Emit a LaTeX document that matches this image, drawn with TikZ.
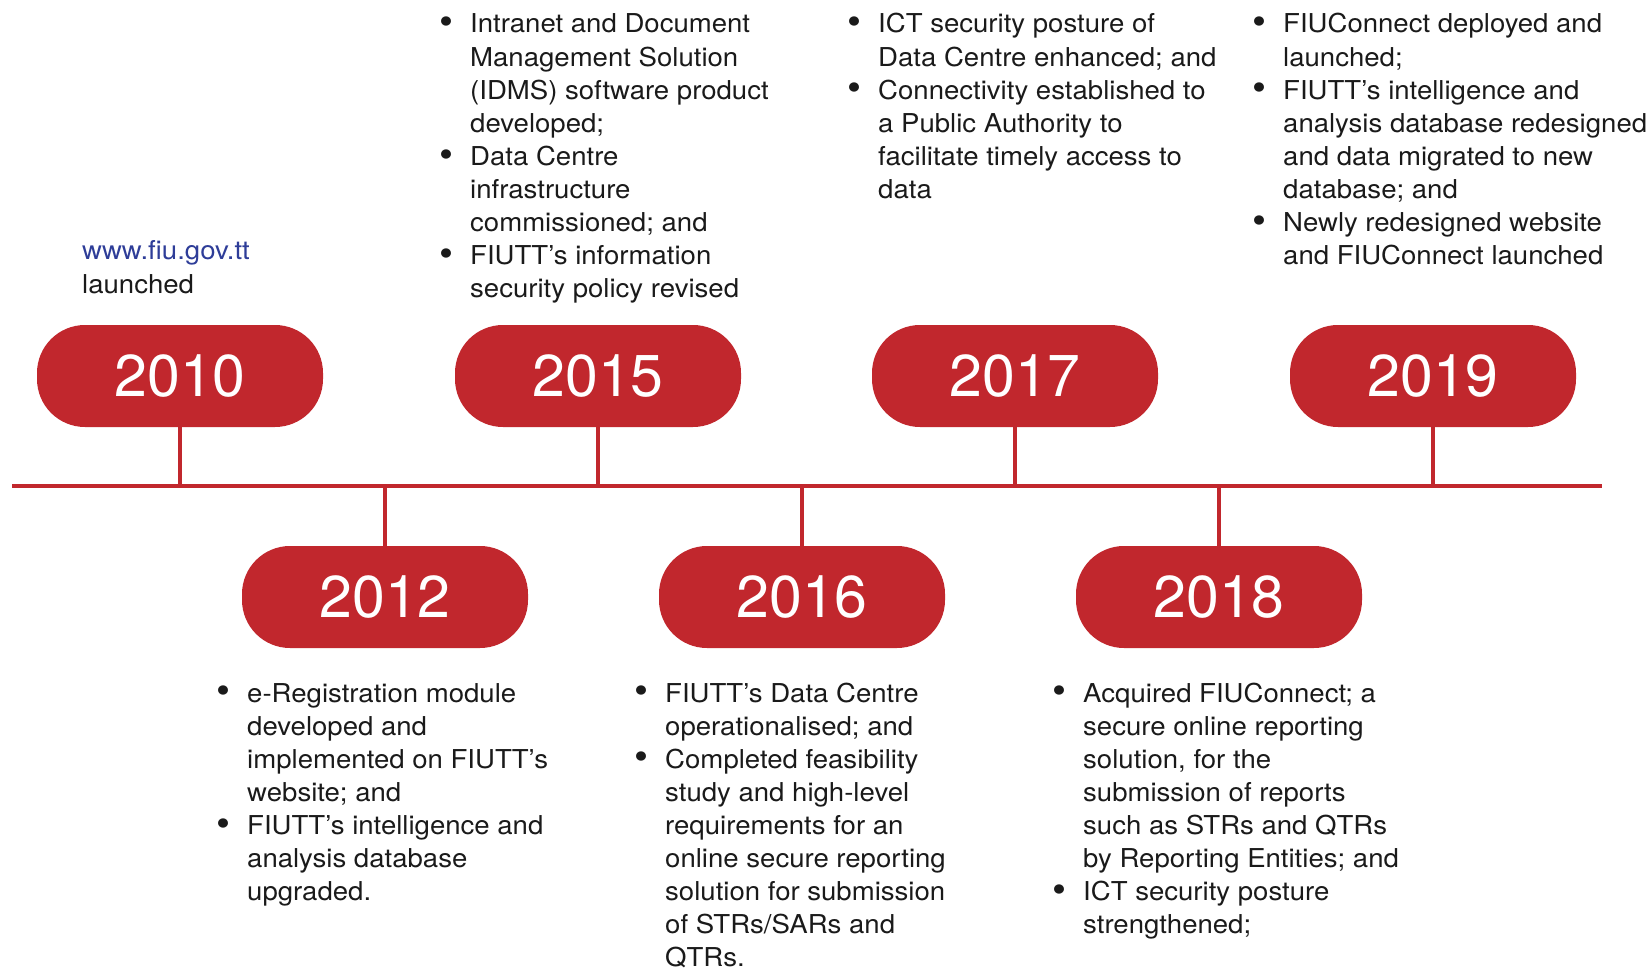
\documentclass[tikz,border=0pt]{standalone}
\usepackage{fontspec}
\setmainfont{TeX Gyre Heros}
\newfontfamily\bodyfont{TeX Gyre Heros}[FakeStretch=1.06]
\newfontfamily\yearfont{TeX Gyre Heros}
\definecolor{tlred}{HTML}{C1272D}
\definecolor{tlblue}{HTML}{2E3D98}
\definecolor{tltext}{HTML}{1A1A1A}
\newcommand\tlbul{\makebox[30.5pt][l]{\raisebox{-0.12ex}{\scalebox{1.45}{\textbullet}}}}
\newcommand\bodysize{\bodyfont\fontsize{26}{33.1}\selectfont}
\tikzset{
  pill/.style={fill=tlred, rounded corners=48pt, minimum width=286pt, minimum height=102pt,
    inner sep=0pt, text=white, font=\yearfont\fontsize{59}{59}\selectfont},
  stem/.style={draw=tlred, line width=4pt},
  axis/.style={draw=tlred, line width=4.6pt},
  txt/.style={anchor=base west, inner sep=0pt, text=tltext, font=\bodysize},
}
\begin{document}
\begin{tikzpicture}[x=1pt,y=-1pt]
\useasboundingbox (0,0) rectangle (1648,968);
% timeline
\coordinate (L0) at (12,486);
\coordinate (L1) at (1602,486);
\draw[axis] (L0) -- (L1);
% pills
\node[pill] (p2010) at (180,376) {2010};
\node[pill] (p2015) at (598,376) {2015};
\node[pill] (p2017) at (1015,376) {2017};
\node[pill] (p2019) at (1433,376) {2019};
\node[pill] (p2012) at (385,597) {2012};
\node[pill] (p2016) at (802,597) {2016};
\node[pill] (p2018) at (1219,597) {2018};
% stem points on the timeline
\coordinate (t2010) at (180,486);
\coordinate (t2015) at (598,486);
\coordinate (t2017) at (1015,486);
\coordinate (t2019) at (1433,486);
\coordinate (t2012) at (385,486);
\coordinate (t2016) at (802,486);
\coordinate (t2018) at (1219,486);
\foreach \y in {2010,2015,2017,2019}{
  \draw[stem] (p\y.south) -- (t\y);
}
\foreach \y in {2012,2016,2018}{
  \draw[stem] (t\y) -- (p\y.north);
}
% texts
\node[txt] (x2010) at (82,260) {\begin{tabular}[t]{@{}l@{}}\textcolor{tlblue}{www.fiu.gov.tt}\\launched\end{tabular}};
\node[txt] (x2015) at (439.5,33) {\begin{tabular}[t]{@{}l@{}l@{}}
\tlbul & Intranet and Document\\
 & Management Solution\\
 & (IDMS) software product\\
 & developed;\\
\tlbul & Data Centre\\
 & infrastructure\\
 & commissioned; and\\
\tlbul & FIUTT’s information\\
 & security policy revised
\end{tabular}};
\node[txt] (x2017) at (847.5,33) {\begin{tabular}[t]{@{}l@{}l@{}}
\tlbul & ICT security posture of\\
 & Data Centre enhanced; and\\
\tlbul & Connectivity established to\\
 & a Public Authority to\\
 & facilitate timely access to\\
 & data
\end{tabular}};
\node[txt] (x2019) at (1252.5,33) {\begin{tabular}[t]{@{}l@{}l@{}}
\tlbul & FIUConnect deployed and\\
 & launched;\\
\tlbul & FIUTT’s intelligence and\\
 & analysis database redesigned\\
 & and data migrated to new\\
 & database; and\\
\tlbul & Newly redesigned website\\
 & and FIUConnect launched
\end{tabular}};
\node[txt] (x2012) at (216.5,702) {\begin{tabular}[t]{@{}l@{}l@{}}
\tlbul & e-Registration module\\
 & developed and\\
 & implemented on FIUTT’s\\
 & website; and\\
\tlbul & FIUTT’s intelligence and\\
 & analysis database\\
 & upgraded.
\end{tabular}};
\node[txt] (x2016) at (634.5,702) {\begin{tabular}[t]{@{}l@{}l@{}}
\tlbul & FIUTT’s Data Centre\\
 & operationalised; and\\
\tlbul & Completed feasibility\\
 & study and high-level\\
 & requirements for an\\
 & online secure reporting\\
 & solution for submission\\
 & of STRs/SARs and\\
 & QTRs.
\end{tabular}};
\node[txt] (x2018) at (1052.5,702) {\begin{tabular}[t]{@{}l@{}l@{}}
\tlbul & Acquired FIUConnect; a\\
 & secure online reporting\\
 & solution, for the\\
 & submission of reports\\
 & such as STRs and QTRs\\
 & by Reporting Entities; and\\
\tlbul & ICT security posture\\
 & strengthened;
\end{tabular}};
\end{tikzpicture}
\end{document}
